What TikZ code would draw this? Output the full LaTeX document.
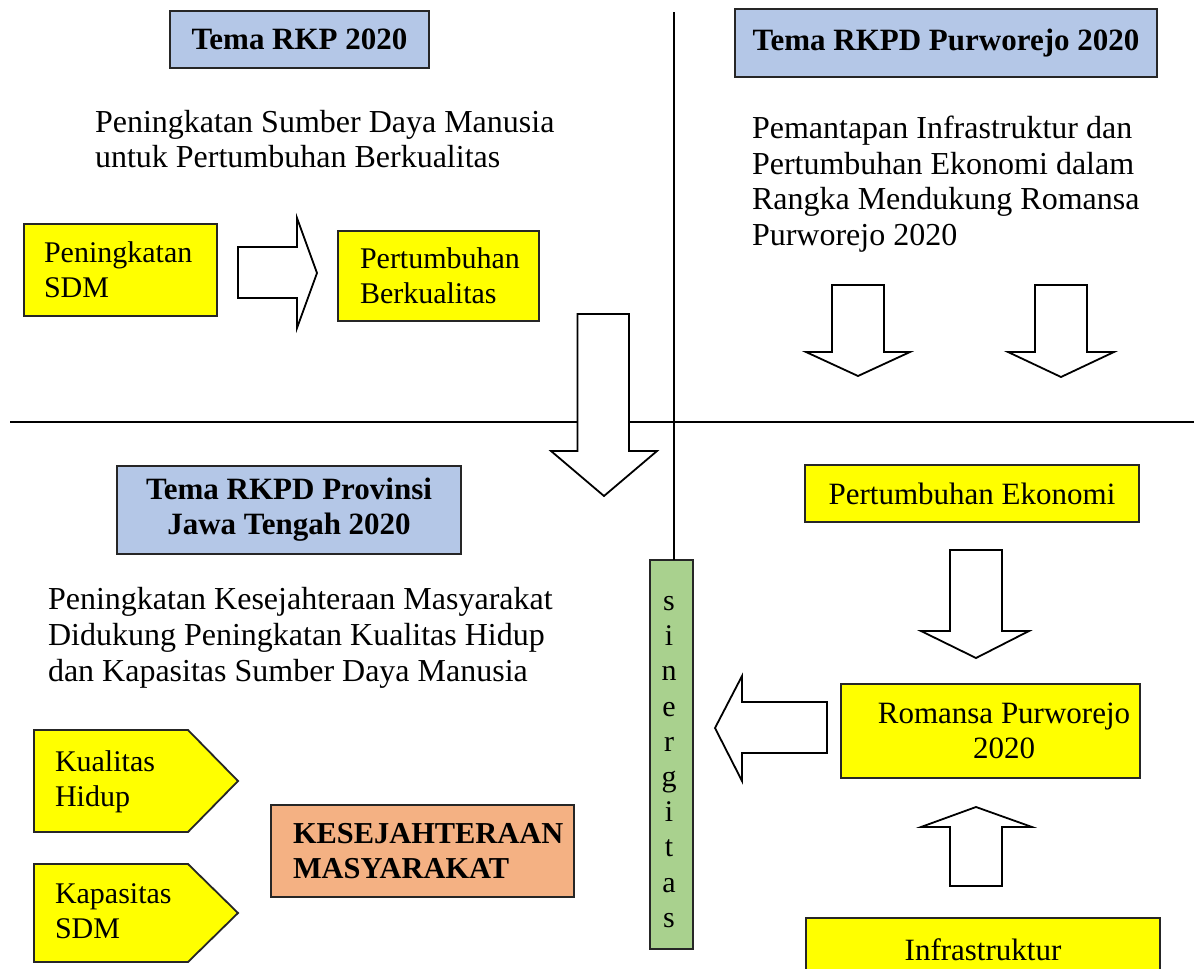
\documentclass[tikz,border=0pt]{standalone}
\usepackage{fontspec}
\setmainfont{Liberation Serif}
\newcommand\mybodyfont{\fontsize{15}{17.5}\selectfont}
\newcommand\myparafont{\fontsize{16}{17.75}\selectfont}
\newcommand\myboxfont{\fontsize{15.5}{17.5}\selectfont}
\definecolor{headblue}{HTML}{B4C7E7}
\definecolor{boxyellow}{HTML}{FFFF00}
\definecolor{salmon}{HTML}{F4B183}
\definecolor{sinergreen}{HTML}{A9D18E}
\tikzset{
  every node/.style={inner sep=0pt, outer sep=0pt},
  frame/.style={draw=black!85, line width=0.9pt},
  headbox/.style={frame, fill=headblue, font=\myboxfont\bfseries, align=center},
  ybox/.style={frame, fill=boxyellow, font=\mybodyfont},
  para/.style={anchor=north west, align=left, font=\myparafont},
  smallpara/.style={anchor=north west, align=left, font=\mybodyfont},
  blockarrow/.style={draw=black, line width=0.9pt, fill=white, line join=miter},
  rulestyle/.style={draw=black, line width=1pt},
}
\begin{document}
\begin{tikzpicture}[x=0.5pt, y=-0.5pt]
\clip (0,0) rectangle (1194,969);
\fill[white] (0,0) rectangle (1194,969);

% ---------- dividing lines ----------
\node[frame, fill=sinergreen, minimum width=21.5pt, minimum height=194.5pt] (sin) at (671.5,754.5) {};
\node[font=\fontsize{15}{17.6}\selectfont, align=center] (sintext) at (669,762) {s\\i\\n\\e\\r\\g\\i\\t\\a\\s};
\coordinate (vtop) at (673.5,12);
\coordinate (hleft) at (10,421.5);
\coordinate (hright) at (1194,421.5);
\draw[rulestyle] (vtop) -- (vtop |- sin.north);
\draw[rulestyle] (hleft) -- (hright);

% ---------- top left ----------
\node[headbox, minimum width=129.5pt, minimum height=28.5pt] (rkp) at (299.5,39.5) {Tema RKP 2020};
\node[para] (rkptext) at (95,110) {Peningkatan Sumber Daya Manusia\\untuk Pertumbuhan Berkualitas};
\node[ybox, minimum width=96.5pt, minimum height=46pt, text width=76.5pt, inner xsep=10pt, align=left] (sdm) at (120.5,270) {Peningkatan\\SDM};
\node[ybox, minimum width=100.5pt, minimum height=45pt, text width=78.5pt, inner xsep=11pt, align=left] (berk) at (438.5,276) {Pertumbuhan\\Berkualitas};
\draw[blockarrow] (238,247) -- (297,247) -- (297,218) -- (317,273) -- (297,328) -- (297,298) -- (238,298) -- cycle;
\draw[blockarrow] (577.5,314) -- (629,314) -- (629,451) -- (657,451) -- (604,496) -- (551,451) -- (577.5,451) -- cycle;

% ---------- top right ----------
\node[headbox, minimum width=211pt, minimum height=34pt] (purw) at (946,43) {Tema RKPD Purworejo 2020};
\node[para] (purwtext) at (752,116) {Pemantapan Infrastruktur dan\\Pertumbuhan Ekonomi dalam\\Rangka Mendukung Romansa\\Purworejo 2020};
\draw[blockarrow] (832,285) -- (884,285) -- (884,352) -- (910,352) -- (858,376) -- (806,352) -- (832,352) -- cycle;
\draw[blockarrow] (1035,285) -- (1087,285) -- (1087,352) -- (1114,352) -- (1061,377) -- (1008,352) -- (1035,352) -- cycle;

% ---------- bottom left ----------
\node[headbox, minimum width=172pt, minimum height=44pt] (prov) at (289,510) {Tema RKPD Provinsi\\Jawa Tengah 2020};
\node[para, font=\fontsize{16}{18}\selectfont] (provtext) at (48,587) {Peningkatan Kesejahteraan Masyarakat\\Didukung Peningkatan Kualitas Hidup\\dan Kapasitas Sumber Daya Manusia};
\draw[frame, fill=boxyellow] (34,730) -- (188,730) -- (238,781) -- (188,832) -- (34,832) -- cycle;
\node[smallpara] (kual) at (55,750.5) {Kualitas\\Hidup};
\draw[frame, fill=boxyellow] (34,864) -- (188,864) -- (238,913) -- (188,962) -- (34,962) -- cycle;
\node[smallpara] (kap) at (55,883.5) {Kapasitas\\SDM};
\node[frame, fill=salmon, font=\fontsize{15.2}{17.5}\selectfont\bfseries, minimum width=151.5pt, minimum height=46pt, text width=129.5pt, inner xsep=11pt, align=left] (kesej) at (422.5,851) {KESEJAHTERAAN\\MASYARAKAT};

% ---------- bottom right ----------
\node[ybox, font=\myboxfont, minimum width=167pt, minimum height=28.5pt] (ekon) at (972,493.5) {Pertumbuhan Ekonomi};
\node[ybox, minimum width=149.5pt, minimum height=47pt, label={[xshift=6.75pt, align=center, font=\myboxfont]center:{Romansa Purworejo\\2020}}] (rom) at (990.5,731) {};
\node[ybox, font=\myboxfont, minimum width=177pt, minimum height=32pt] (infra) at (983,950) {Infrastruktur};
\draw[blockarrow] (950,550) -- (1002,550) -- (1002,631) -- (1029,631) -- (976,658) -- (921,631) -- (950,631) -- cycle;
\draw[blockarrow] (827,702) -- (742,702) -- (742,676) -- (715,728) -- (742,781) -- (742,753) -- (827,753) -- cycle;
\draw[blockarrow] (950,886) -- (950,827) -- (921,827) -- (976,807) -- (1032,827) -- (1002,827) -- (1002,886) -- cycle;
\end{tikzpicture}
\end{document}
